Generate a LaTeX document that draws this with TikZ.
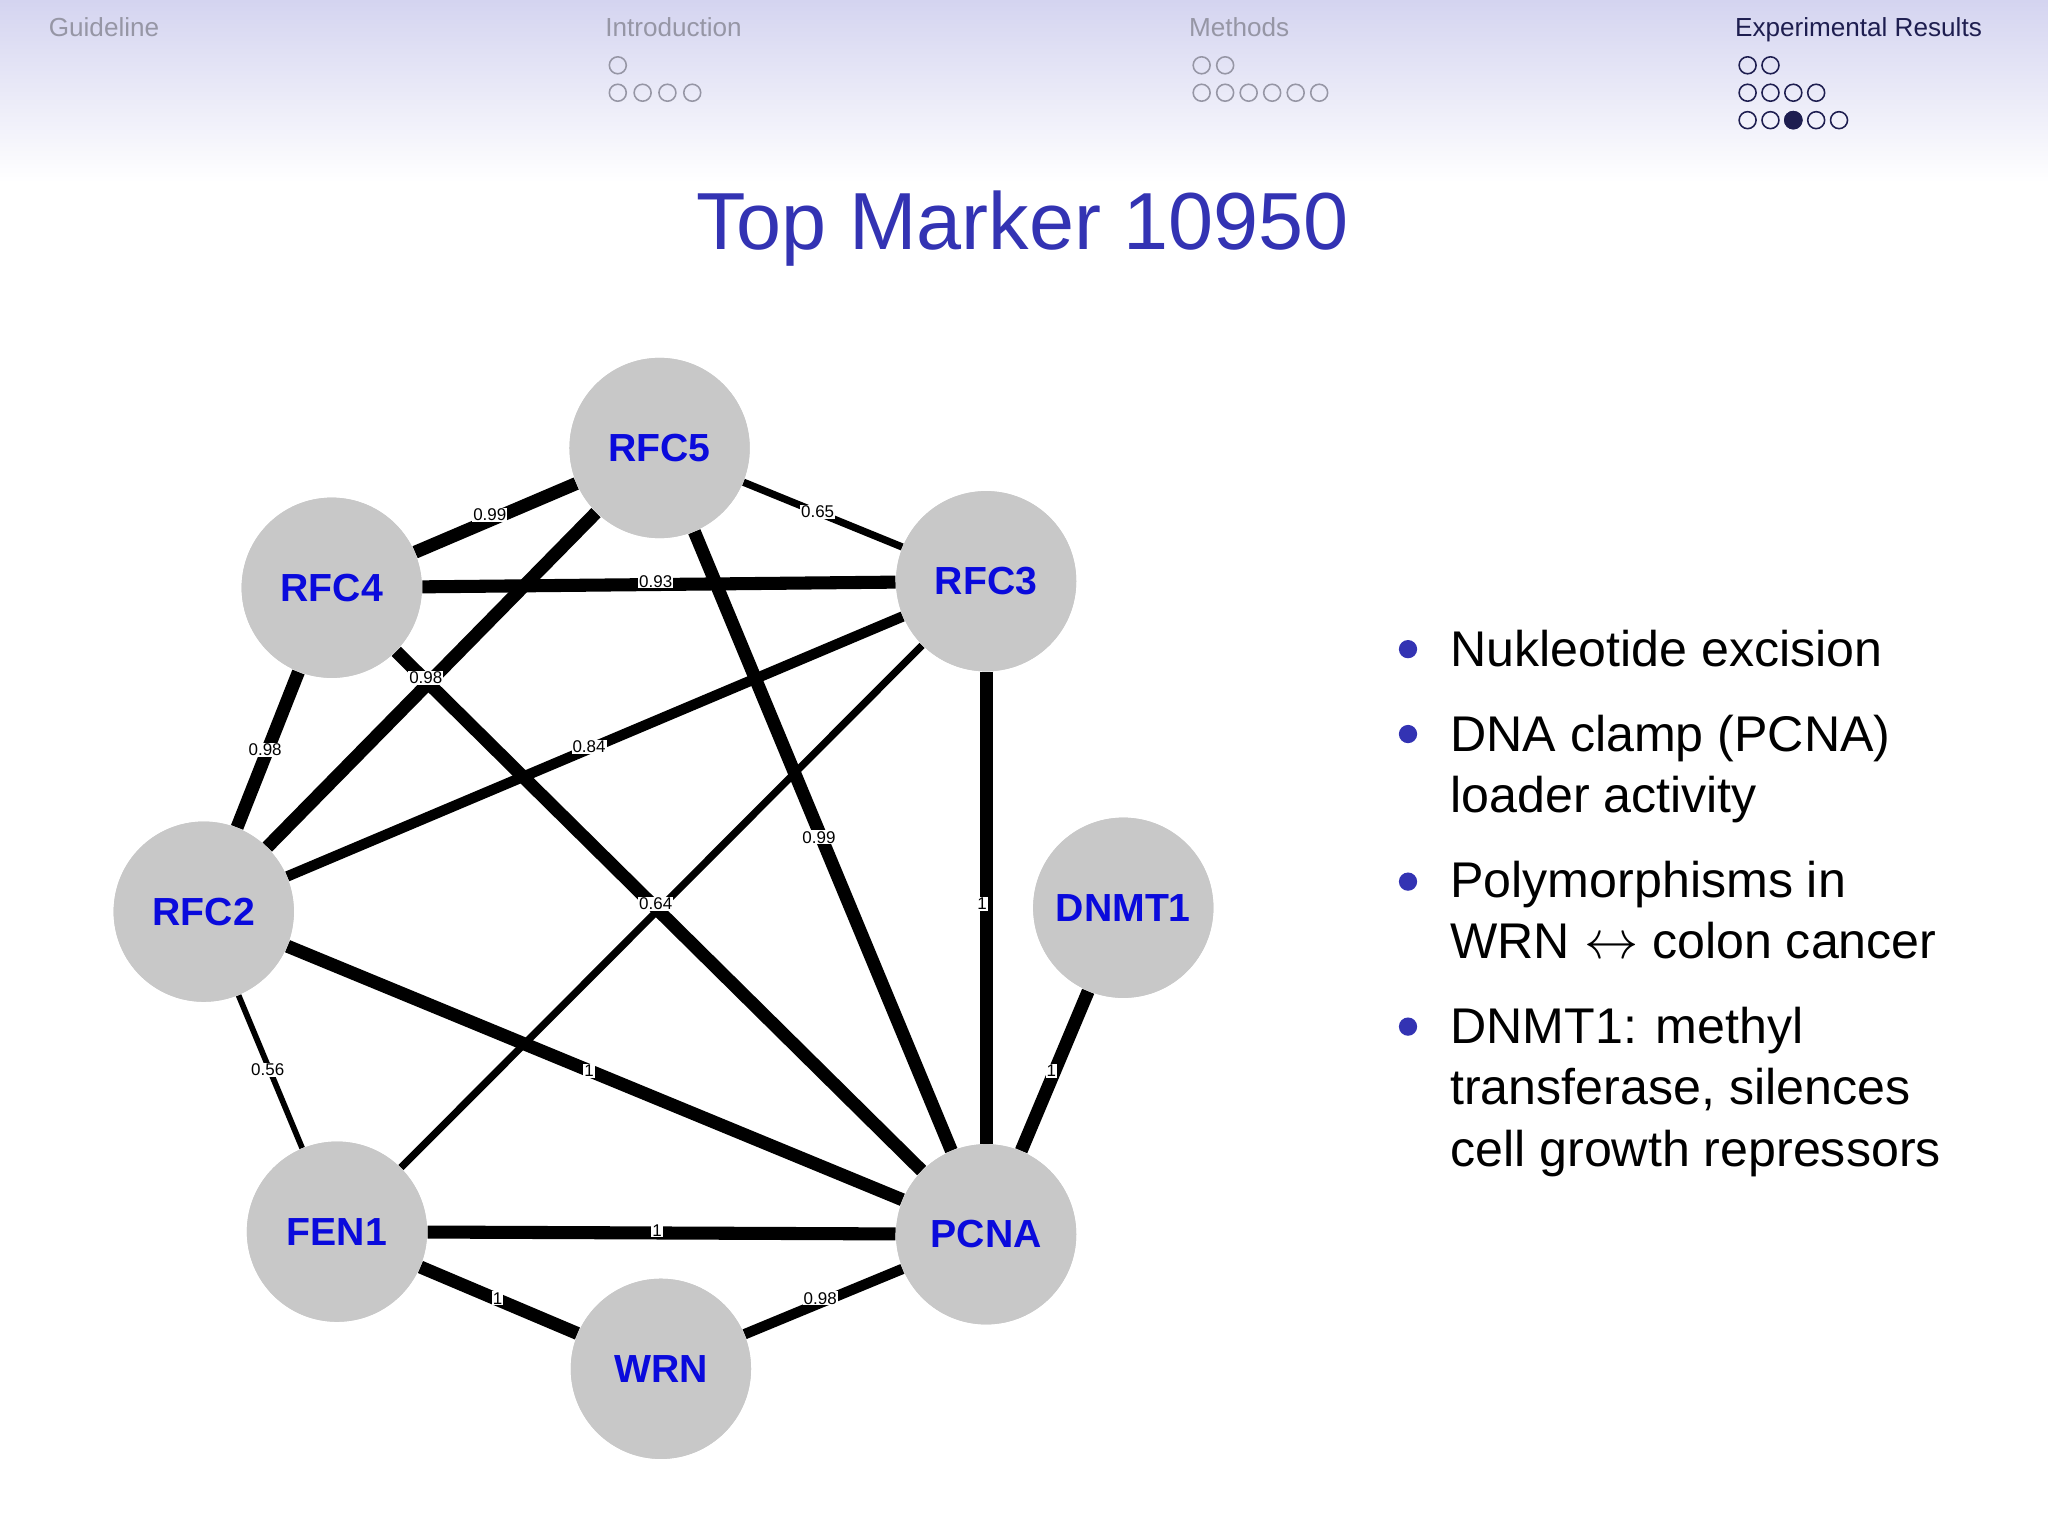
\documentclass[tikz,border=0pt]{standalone}
\usepackage{fontspec}
\setmainfont{Liberation Sans}
\definecolor{titleblue}{RGB}{51,51,179}
\definecolor{nodeblue}{RGB}{10,10,220}
\definecolor{nodegray}{RGB}{200,200,200}
\definecolor{hdrgray}{RGB}{150,150,165}
\definecolor{navy}{RGB}{30,30,80}
\definecolor{band}{RGB}{212,212,240}
\tikzset{
  gnode/.style={circle,fill=nodegray,minimum size=69pt,inner sep=0pt,font=\fontsize{15}{15}\selectfont\bfseries,text=nodeblue},
  edgeA/.style={line width=5pt},
  edgeB/.style={line width=4pt},
  edgeC/.style={line width=2.8pt},
  elab/.style={fill=white,inner sep=0.4pt,font=\fontsize{6.5}{6.5}\selectfont},
  hdr/.style={font=\fontsize{10}{10}\selectfont,anchor=base west,inner sep=0pt},
  dot/.style={draw,line width=0.6pt,circle,minimum size=6.5pt,inner sep=0pt},
  btxt/.style={font=\fontsize{19.2}{19.2}\selectfont,anchor=base west,inner sep=0pt},
  bul/.style={circle,fill=titleblue,minimum size=7pt,inner sep=0pt}
}
\begin{document}
\begin{tikzpicture}[x=0.5pt,y=-0.5pt]
\useasboundingbox (0,0) rectangle (1568,1176);
\shade[top color=band,bottom color=white] (0,0) rectangle (1568,140);
% header
\node[hdr,text=hdrgray] at (37,28) {Guideline};
\node[hdr,text=hdrgray] at (463,28) {Introduction};
\node[hdr,text=hdrgray] at (910,28) {Methods};
\node[hdr,text=navy] at (1328,28) {Experimental Results};
\node[dot,draw=hdrgray] (i1) at (473,50) {};
\foreach \k in {0,...,3} \node[dot,draw=hdrgray] (i2\k) at (473+\k*19,71) {};
\foreach \k in {0,1} \node[dot,draw=hdrgray] (m1\k) at (920+\k*18,50) {};
\foreach \k in {0,...,5} \node[dot,draw=hdrgray] (m2\k) at (920+\k*18,71) {};
\foreach \k in {0,1} \node[dot,draw=navy] (e1\k) at (1338+\k*17.5,50) {};
\foreach \k in {0,...,3} \node[dot,draw=navy] (e2\k) at (1338+\k*17.5,71) {};
\foreach \k in {0,...,4} \node[dot,draw=navy] (e3\k) at (1338+\k*17.5,92) {};
\node[dot,draw=navy,fill=navy] (cur) at (1373,92) {};
% title
\node[text=titleblue,font=\fontsize{31}{31}\selectfont] (title) at (783,175) {Top Marker 10950};
% nodes
\node[gnode] (RFC5) at (505,343) {RFC5};
\node[gnode] (RFC4) at (254,450) {RFC4};
\node[gnode] (RFC3) at (755,445) {RFC3};
\node[gnode] (RFC2) at (156,698) {RFC2};
\node[gnode] (DNMT1) at (860,695) {DNMT1};
\node[gnode] (FEN1) at (258,943) {FEN1};
\node[gnode] (PCNA) at (755,945) {PCNA};
\node[gnode] (WRN) at (506,1048) {WRN};
% edges
\draw[edgeA] (RFC5) -- (RFC4);
\draw[edgeC] (RFC5) -- (RFC3);
\draw[edgeA] (RFC4) -- (RFC3);
\draw[edgeA] (RFC5) -- (RFC2);
\draw[edgeA] (RFC4) -- (RFC2);
\draw[edgeB] (RFC3) -- (RFC2);
\draw[edgeA] (RFC5) -- (PCNA);
\draw[edgeC] (RFC3) -- (FEN1);
\draw[edgeA] (RFC4) -- (PCNA);
\draw[edgeA] (RFC3) -- (PCNA);
\draw[edgeA] (DNMT1) -- (PCNA);
\draw[edgeA] (RFC2) -- (PCNA);
\draw[line width=2.2pt] (RFC2) -- (FEN1);
\draw[edgeA] (FEN1) -- (PCNA);
\draw[edgeA] (FEN1) -- (WRN);
\draw[edgeB] (WRN) -- (PCNA);
\foreach \n/\p/\t in {RFC5/{(505,343)}/RFC5,RFC4/{(254,450)}/RFC4,RFC3/{(755,445)}/RFC3,RFC2/{(156,698)}/RFC2,DNMT1/{(860,695)}/DNMT1,FEN1/{(258,943)}/FEN1,PCNA/{(755,945)}/PCNA,WRN/{(506,1048)}/WRN}
  \node[gnode] (\n top) at \p {\t};
% edge labels
\node[elab] (l1) at (375,394) {0.99};
\node[elab] (l2) at (626,392) {0.65};
\node[elab] (l3) at (502,445) {0.93};
\node[elab] (l4) at (326,519) {0.98};
\node[elab] (l5) at (203,574) {0.98};
\node[elab] (l6) at (451,572) {0.84};
\node[elab] (l7) at (627,641) {0.99};
\node[elab] (l8) at (502,692) {0.64};
\node[elab] (l9) at (752,692) {1};
\node[elab] (l10) at (805,820) {1};
\node[elab] (l11) at (451,820) {1};
\node[elab] (l12) at (205,819) {0.56};
\node[elab] (l13) at (503,942) {1};
\node[elab] (l14) at (381,994) {1};
\node[elab] (l15) at (628,994) {0.98};
% bullets
\foreach \y in {497,562,675,786} \node[bul] at (1078,\y) {};
\node[btxt] (b1) at (1110,510) {Nukleotide excision};
\node[btxt] (b2) at (1110,575) {DNA clamp (PCNA)};
\node[btxt] (b2b) at (1110,622) {loader activity};
\node[btxt] (b3) at (1110,687) {Polymorphisms in};
\node[btxt] (b3b) at (1110,734) {WRN $\leftrightarrow$ colon cancer};
\node[btxt] (b4) at (1110,799) {DNMT1: methyl};
\node[btxt] (b4b) at (1110,846) {transferase, silences};
\node[btxt] (b4c) at (1110,893) {cell growth repressors};
\end{tikzpicture}
\end{document}
